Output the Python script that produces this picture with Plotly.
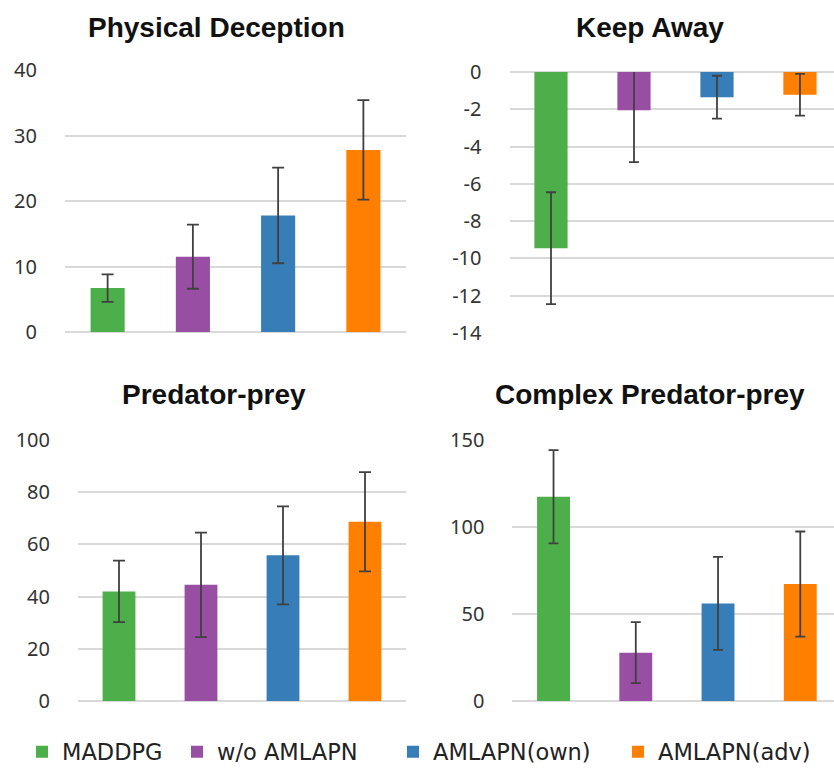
import plotly.graph_objects as go

methods = ["MADDPG", "w/o AMLAPN", "AMLAPN(own)", "AMLAPN(adv)"]
colors = ["#4DAF4A", "#984EA3", "#377EB8", "#FF7F00"]

titles = ["Physical Deception", "Keep Away", "Predator-prey", "Complex Predator-prey"]

pd_mean = [6.7, 11.5, 17.8, 27.8]
pd_err = [2.1, 4.9, 7.3, 7.6]

ka_mean = [-9.45, -2.05, -1.35, -1.22]
ka_err = [3.0, 2.78, 1.15, 1.12]

pp_mean = [42.0, 44.5, 55.8, 68.7]
pp_err = [11.8, 20.0, 18.8, 19.0]

cpp_mean = [117.4, 27.8, 56.1, 67.2]
cpp_err = [26.8, 17.5, 26.7, 30.2]

yticks = [
    [0, 10, 20, 30, 40],
    [0, -2, -4, -6, -8, -10, -12, -14],
    [0, 20, 40, 60, 80, 100],
    [0, 50, 100, 150],
]
yticklabels = [[str(v) for v in t] for t in yticks]  # plain hyphen-minus
yranges = [[0, 40], [-14, 0], [0, 100], [0, 150]]

W, H = 834, 768
# pixel geometry of the four panels: (left, right, top, bottom)
panels = [
    (65, 406, 70, 332),
    (509.5, 834, 72, 333),
    (78, 406, 440, 701),
    (512.4, 834, 440, 701),
]
xranges = [[-0.5, 3.5], [-0.5, 3.41], [-0.5, 3.5], [-0.5, 3.41]]
title_pos = [(216, 27), (650, 27), (214, 394), (650, 394)]
cap_w = [6, 5, 6, 5]
legend_x_px = [22, 177, 393, 618]
legend_ids = ["legend", "legend2", "legend3", "legend4"]

data = [(pd_mean, pd_err), (ka_mean, ka_err), (pp_mean, pp_err), (cpp_mean, cpp_err)]

fig = go.Figure()
layout = dict(
    width=W, height=H,
    margin=dict(l=0, r=0, t=0, b=0, autoexpand=False),
    paper_bgcolor="white", plot_bgcolor="white",
    barmode="overlay",
    showlegend=True,
)
annotations = []
for p, ((means, errs), (l, r, t, b)) in enumerate(zip(data, panels)):
    sfx = "" if p == 0 else str(p + 1)
    for i, m in enumerate(methods):
        fig.add_trace(go.Bar(
            x=[i], y=[means[i]], width=0.4,
            marker=dict(color=colors[i], line=dict(width=0)),
            error_y=dict(type="data", array=[errs[i]], visible=True,
                         color="#404040", thickness=1.8, width=cap_w[p]),
            name=m, legendgroup=m, showlegend=(p == 0),
            legend=legend_ids[i],
            xaxis="x" + sfx, yaxis="y" + sfx,
        ))
    layout["xaxis" + sfx] = dict(
        domain=[l / W, r / W], range=xranges[p], anchor="y" + sfx,
        showticklabels=False, showgrid=False, zeroline=False, showline=False,
        fixedrange=True,
    )
    layout["yaxis" + sfx] = dict(
        domain=[1 - b / H, 1 - t / H], range=yranges[p], anchor="x" + sfx,
        tickvals=yticks[p], ticktext=yticklabels[p],
        showgrid=True, gridcolor="#D9D9D9", gridwidth=1.5,
        zeroline=True, zerolinecolor="#D9D9D9", zerolinewidth=1.5,
        showline=False, ticks="", ticklabelstandoff=27,
        tickfont=dict(family="Noto Sans", size=20, color="#333333"),
        fixedrange=True,
    )
    tx, ty = title_pos[p]
    annotations.append(dict(
        text="<b>" + titles[p] + "</b>", x=tx / W, y=1 - ty / H,
        xref="paper", yref="paper", xanchor="center", yanchor="middle",
        showarrow=False,
        font=dict(family="Liberation Sans", size=28, color="#111111"),
    ))

layout["annotations"] = annotations
for lid, lx in zip(legend_ids, legend_x_px):
    layout[lid] = dict(
        orientation="h", x=lx / W, xanchor="left", y=1 - 752 / H, yanchor="middle",
        font=dict(family="DejaVu Sans", size=22.5, color="#222222"),
        bgcolor="rgba(0,0,0,0)",
    )
fig.update_layout(**layout)
fig.write_html("out.html")
